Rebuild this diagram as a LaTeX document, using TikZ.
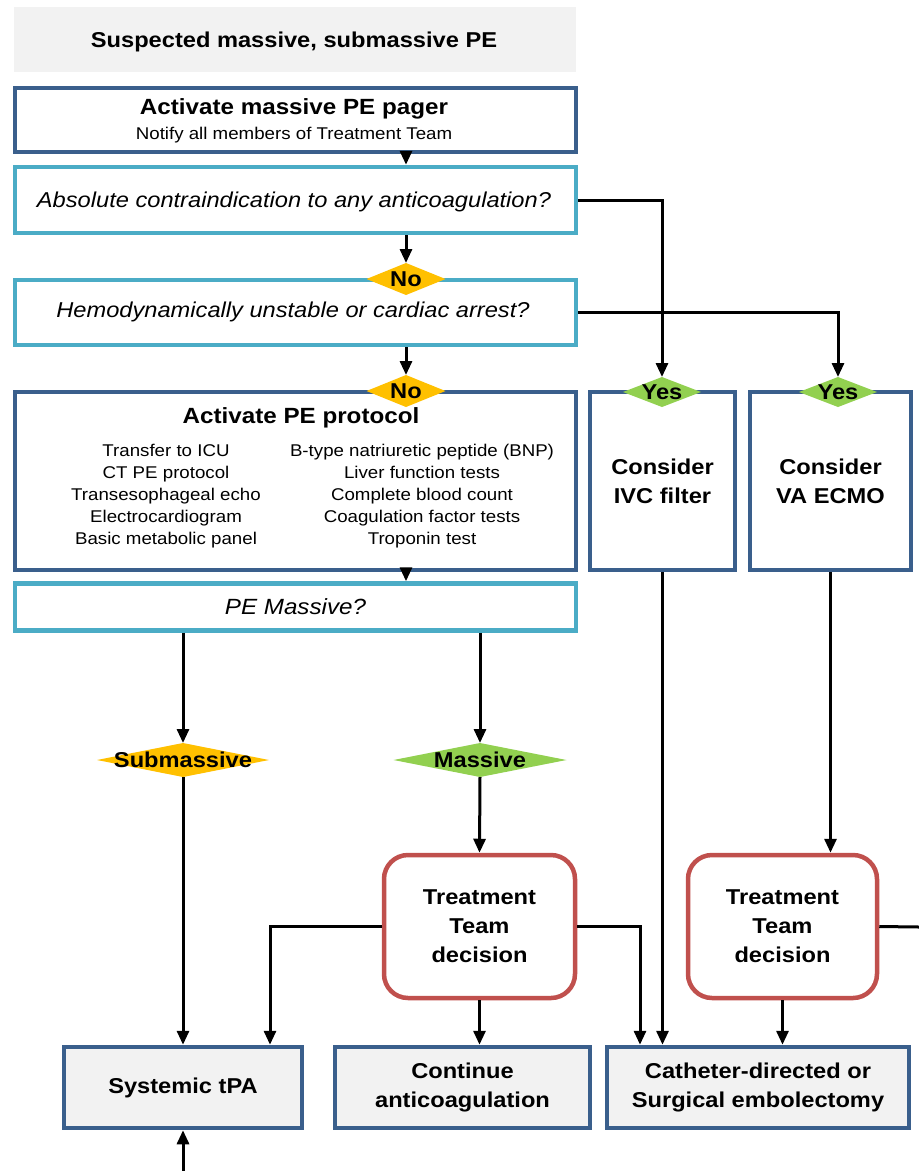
\documentclass[tikz,border=0pt]{standalone}
\usepackage{fontspec}
\setmainfont[FakeStretch=1.1]{Liberation Sans}
\usetikzlibrary{arrows.meta}
\definecolor{dkblue}{HTML}{3A5F8C}
\definecolor{ltblue}{HTML}{4BACC6}
\definecolor{redc}{HTML}{C0504D}
\definecolor{goldc}{HTML}{FFC000}
\definecolor{lgreen}{HTML}{92D050}
\definecolor{grayf}{HTML}{F2F2F2}
\newcommand\myBig{\fontsize{21.5}{29}\selectfont\bfseries}
\newcommand\myQ{\fontsize{21.5}{26}\selectfont\itshape}
\newcommand\mySmall{\fontsize{17}{22}\selectfont}
\begin{document}
\begin{tikzpicture}[x=1pt,y=-1pt,
  box/.style={draw=dkblue, line width=4.5pt, fill=white, inner sep=0pt, align=center, text=black},
  qbox/.style={box, draw=ltblue},
  endbox/.style={box, fill=grayf},
  ttd/.style={box, draw=redc, rounded corners=24pt},
  dmd/.style={inner sep=0pt, outer sep=0pt, font=\myBig,
    path picture={\fill[#1] (path picture bounding box.west) -- (path picture bounding box.north)
      -- (path picture bounding box.east) -- (path picture bounding box.south) -- cycle;}},
  conn/.style={line width=3pt, draw=black},
  arr/.style={conn, -{Triangle[length=14pt,width=12pt]}}
]
\useasboundingbox (0,0) rectangle (919,1171);

% header
\node[fill=grayf, minimum width=562pt, minimum height=65pt, inner sep=0pt] (hdr) at (295,39.5) {};
\node[font=\fontsize{21.5}{26}\selectfont\bfseries] (hdrt) at (294,42) {Suspected massive, submassive PE};

% boxes
\node[box, minimum width=561pt, minimum height=64pt] (b1) at (295.5,120) {};
\node[font=\fontsize{22}{26}\selectfont\bfseries] (b1t) at (294,109) {Activate massive PE pager};
\node[font=\mySmall] (b1s) at (294,135) {Notify all members of Treatment Team};

\node[qbox, minimum width=561pt, minimum height=66pt, font=\myQ] (q1) at (295.5,200) {};
\node[font=\myQ] (q1t) at (294,201.5) {Absolute contraindication to any anticoagulation?};
\node[qbox, minimum width=561pt, minimum height=65pt] (q2) at (295.5,312.5) {};
\node[font=\myQ] (q2t) at (293,312) {Hemodynamically unstable or cardiac arrest?};

\node[box, minimum width=561pt, minimum height=178pt] (b4) at (295.5,481) {};
\node[font=\fontsize{22}{26}\selectfont\bfseries] (b4t) at (301,418) {Activate PE protocol};
\node[font=\mySmall, align=center] (b4l) at (166,496) {Transfer to ICU\\CT PE protocol\\Transesophageal echo\\Electrocardiogram\\Basic metabolic panel};
\node[font=\mySmall, align=center] (b4r) at (422,496) {B-type natriuretic peptide (BNP)\\Liver function tests\\Complete blood count\\Coagulation factor tests\\Troponin test};

\node[qbox, minimum width=561pt, minimum height=47pt, font=\fontsize{22}{26}\selectfont\itshape] (q3) at (295.5,607) {PE Massive?};

\node[box, minimum width=145pt, minimum height=178pt, font=\myBig] (ivc) at (662.5,481) {Consider\\IVC filter};
\node[box, minimum width=161pt, minimum height=178pt, font=\myBig] (ecmo) at (830.5,481) {Consider\\VA ECMO};

\node[ttd, minimum width=191pt, minimum height=143pt, font=\myBig] (ttd1) at (479.5,926.5) {Treatment\\Team\\decision};
\node[ttd, minimum width=189pt, minimum height=143pt, font=\myBig] (ttd2) at (782.5,926.5) {Treatment\\Team\\decision};

\node[endbox, minimum width=238pt, minimum height=81pt, font=\myBig] (tpa) at (183,1087.5) {Systemic tPA};
\node[endbox, minimum width=255pt, minimum height=81pt, font=\myBig] (cont) at (462.5,1087.5) {Continue\\anticoagulation};
\node[endbox, minimum width=302pt, minimum height=81pt, font=\myBig] (cath) at (758,1087.5) {Catheter-directed or\\Surgical embolectomy};

% diamonds
\node[dmd=goldc, minimum width=79pt, minimum height=32pt] (no1) at (406,279) {No};
\node[dmd=goldc, minimum width=79pt, minimum height=32pt] (no2) at (406,391) {No};
\node[dmd=lgreen, minimum width=78pt, minimum height=30pt] (yes1) at (662,392) {Yes};
\node[dmd=lgreen, minimum width=78pt, minimum height=30pt] (yes2) at (838,392) {Yes};
\node[dmd=goldc, minimum width=172pt, minimum height=34pt] (sub) at (183,760) {Submassive};
\node[dmd=lgreen, minimum width=173pt, minimum height=34pt] (mas) at (480,760) {Massive};

% free ends
\coordinate (offR) at (919,927);
\coordinate (offB) at (183,1171);

% connectors
\draw[arr] (b1.south -| no1.center) -- (q1.north -| no1.center);
\draw[arr] (q1.south -| no1.center) -- (no1.north);
\draw[arr] (q2.south -| no1.center) -- (no2.north);
\draw[arr] (b4.south -| no1.center) -- (q3.north -| no1.center);
\draw[arr] (q1.east) -| (yes1.north);
\draw[arr] (q2.east) -| (yes2.north);
\draw[arr] (q3.south -| sub.center) -- (sub.north);
\draw[arr] (q3.south -| mas.center) -- (mas.north);
\draw[arr] (sub.south) -- (tpa.north);
\draw[arr] (mas.south) -- (ttd1.north);
\draw[arr] (ttd1.west) -| ([xshift=87pt]tpa.north);
\draw[arr] (ttd1.south) -- (ttd1.south |- cont.north);
\draw[arr] (ttd1.east) -| ([xshift=-118pt]cath.north);
\draw[arr] (ivc.south) -- (ivc.south |- cath.north);
\draw[arr] (ecmo.south) -- (ecmo.south |- ttd2.north);
\draw[arr] (ttd2.south) -- (ttd2.south |- cath.north);
\draw[conn] (ttd2.east) -- (offR);
\draw[arr] (offB) -- (tpa.south);
\end{tikzpicture}
\end{document}
